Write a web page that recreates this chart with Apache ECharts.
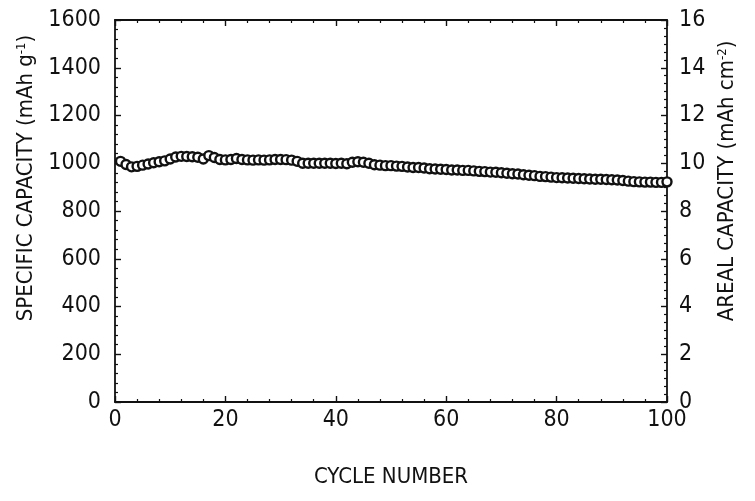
<!DOCTYPE html>
<html>
<head>
<meta charset="utf-8">
<script src="https://cdn.jsdelivr.net/npm/echarts@6/dist/echarts.min.js"></script>
<style>
  html, body { margin: 0; padding: 0; background: #fff; }
  #chart { width: 755px; height: 501px; }
</style>
</head>
<body>
<div id="chart"></div>
<script>
  // cycle numbers and specific capacity (mAh g-1)
  var cycles = [];
  for (var c = 1; c <= 100; c++) cycles.push(c);
  var capacity = [
    1008, 995, 985, 987, 992, 997, 1002, 1006, 1010, 1018,
    1026, 1029, 1028, 1027, 1025, 1018, 1032, 1024, 1016, 1014,
    1016, 1020, 1016, 1014, 1013, 1014, 1013, 1014, 1016, 1016,
    1015, 1013, 1008, 1000, 1000, 1000, 1000, 1000, 1000, 999,
    1000, 998, 1004, 1006, 1004, 1000, 994, 992, 990, 990,
    988, 987, 984, 982, 982, 980, 977, 976, 975, 974,
    972, 972, 970, 970, 968, 966, 965, 963, 962, 960,
    958, 956, 955, 952, 950, 948, 945, 944, 942, 940,
    939, 938, 937, 936, 935, 934, 933, 933, 932, 931,
    930, 928, 925, 923, 922, 921, 921, 920, 920, 922
  ];
  var xTicks = [0, 20, 40, 60, 80, 100];
  var leftTicks = [0, 200, 400, 600, 800, 1000, 1200, 1400, 1600];
  var rightTicks = [0, 2, 4, 6, 8, 10, 12, 14, 16];

  var points = [];
  for (var i = 0; i < cycles.length; i++) {
    points.push([cycles[i], capacity[i]]);
  }

  var font = "'Liberation Sans Narrow', 'DejaVu Sans Condensed', sans-serif";
  var ink = '#111';

  var axisLine = { show: true, onZero: false, lineStyle: { color: ink, width: 1.8 } };
  var tick = { show: true, inside: true, length: 6, lineStyle: { color: ink, width: 1.4 } };
  var minor = function (n) {
    return { show: true, splitNumber: n, length: 3, lineStyle: { color: ink, width: 1.2 } };
  };
  var label = function (margin) {
    return {
      show: true, color: ink, fontFamily: font, fontSize: 23, margin: margin,
      formatter: function (v) { return String(v); }
    };
  };
  var nameStyle = {
    color: ink, fontFamily: font, fontSize: 22,
    rich: {
      sup: { fontFamily: font, fontSize: 13, color: ink, padding: [0, 0, 10, 0] },
      n: { fontFamily: font, fontSize: 22, color: ink }
    }
  };

  var chart = echarts.init(document.getElementById('chart'));
  chart.setOption({
    backgroundColor: '#fff',
    animation: false,
    grid: { left: 115, right: 88, top: 20, bottom: 99 },
    xAxis: [{
      type: 'value',
      min: xTicks[0], max: xTicks[xTicks.length - 1], interval: 20,
      name: 'CYCLE NUMBER',
      nameLocation: 'middle',
      nameGap: 64,
      nameTextStyle: { color: ink, fontFamily: font, fontSize: 22 },
      axisLine: axisLine, axisTick: tick, minorTick: minor(5),
      axisLabel: label(7),
      splitLine: { show: false }
    }, {
      type: 'value', position: 'top',
      min: xTicks[0], max: xTicks[xTicks.length - 1], interval: 20,
      axisLine: axisLine, axisTick: tick, minorTick: minor(5),
      axisLabel: { show: false }, splitLine: { show: false }
    }],
    yAxis: [{
      type: 'value', position: 'left',
      min: leftTicks[0], max: leftTicks[leftTicks.length - 1], interval: 200,
      name: '{n|SPECIFIC CAPACITY (mAh g}{sup|-1}{n|)}',
      nameLocation: 'middle',
      nameRotate: 90,
      nameGap: 70,
      nameTextStyle: Object.assign({}, nameStyle, { padding: [0, 0, 0, 66] }),
      axisLine: axisLine, axisTick: tick, minorTick: minor(5),
      axisLabel: label(14),
      splitLine: { show: false }
    }, {
      type: 'value', position: 'right',
      min: rightTicks[0], max: rightTicks[rightTicks.length - 1], interval: 2,
      name: '{n|AREAL CAPACITY (mAh cm}{sup|-2}{n|)}',
      nameLocation: 'middle',
      nameRotate: 90,
      nameGap: 42,
      nameTextStyle: Object.assign({}, nameStyle, { padding: [0, 0, 0, 60] }),
      axisLine: axisLine, axisTick: tick, minorTick: minor(6),
      axisLabel: label(12),
      splitLine: { show: false }
    }],
    series: [{
      type: 'scatter',
      xAxisIndex: 0,
      yAxisIndex: 0,
      data: points,
      symbol: 'circle',
      symbolSize: 9,
      itemStyle: { color: '#fff', borderColor: ink, borderWidth: 2.4, opacity: 1 }
    }]
  });
</script>
</body>
</html>
